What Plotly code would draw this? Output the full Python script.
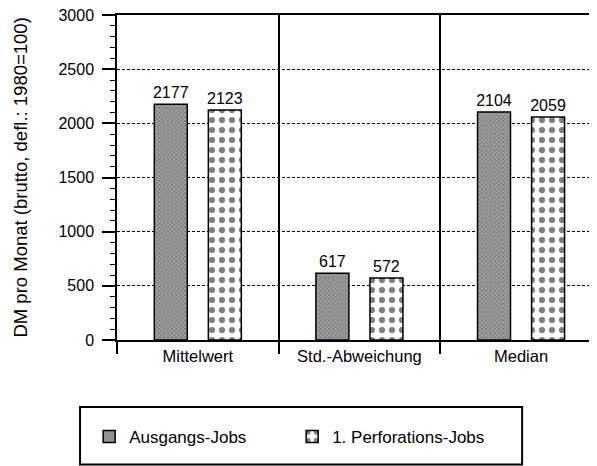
import plotly.graph_objects as go

categories = ["Mittelwert", "Std.-Abweichung", "Median"]
ausgangs_jobs = [2177, 617, 2104]
perforations_jobs = [2123, 572, 2059]
series_names = ["Ausgangs-Jobs", "1. Perforations-Jobs"]
y_title = "DM pro Monat (brutto, defl.: 1980=100)"

FONT = "Liberation Sans, Arial, Helvetica, sans-serif"

fig = go.Figure()
fig.add_trace(go.Bar(
    x=categories, y=ausgangs_jobs, name=series_names[0],
    text=[str(v) for v in ausgangs_jobs], textposition="outside",
    textfont=dict(size=16, color="black", family=FONT),
    constraintext="none", cliponaxis=False,
    marker=dict(color="#8e8e8e", line=dict(color="black", width=1.5),
                pattern=dict(shape="x", size=3, solidity=0.35, fgcolor="#333333", bgcolor="#a0a0a0")),
))
fig.add_trace(go.Bar(
    x=categories, y=perforations_jobs, name=series_names[1],
    text=[str(v) for v in perforations_jobs], textposition="outside",
    textfont=dict(size=16, color="black", family=FONT),
    constraintext="none", cliponaxis=False,
    marker=dict(color="white", line=dict(color="black", width=1.5),
                pattern=dict(shape=".", size=10, solidity=0.3, fgcolor="black", bgcolor="white")),
))

fig.update_layout(
    width=589, height=466,
    margin=dict(l=109, r=0, t=7, b=134, autoexpand=False),
    paper_bgcolor="white", plot_bgcolor="white",
    font=dict(family=FONT, size=16, color="black"),
    barmode="group", bargap=0.331, bargroupgap=0.39,
    showlegend=True,
    legend=dict(orientation="h", x=-0.058, xanchor="left", y=-0.298, yanchor="middle",
                font=dict(size=17, color="black", family=FONT),
                entrywidth=158, traceorder="normal", bgcolor="rgba(0,0,0,0)"),
    shapes=[dict(type="rect", xref="paper", yref="paper",
                 x0=-0.077, x1=0.844, y0=-0.383, y1=-0.206,
                 line=dict(color="black", width=2), fillcolor="rgba(0,0,0,0)", layer="below")],
    annotations=[dict(text=y_title, textangle=-90, xref="paper", yref="paper",
                      x=-0.202, y=0.50, xanchor="center", yanchor="middle", showarrow=False,
                      font=dict(size=18.5, color="black", family=FONT))],
)

fig.update_xaxes(
    type="category", range=[-0.5, 2.47], automargin=False,
    tickson="boundaries", ticks="outside", ticklen=12, tickcolor="black", tickwidth=1.5,
    showgrid=True, gridcolor="black", gridwidth=1.5,
    showline=True, linecolor="black", linewidth=1.5, mirror=True,
    tickfont=dict(size=16.5, color="black", family=FONT),
)
fig.update_yaxes(
    range=[0, 3000], dtick=500, tick0=0, automargin=False,
    ticks="outside", ticklen=13, tickcolor="black", tickwidth=1.5,
    ticklabelstandoff=5, ticklabeloverflow="allow",
    minor=dict(dtick=100, ticks="outside", ticklen=5, tickcolor="black", tickwidth=1, showgrid=False),
    showgrid=True, gridcolor="black", gridwidth=1, griddash="3px,2px",
    showline=True, linecolor="black", linewidth=1.5,
    zeroline=False,
    tickfont=dict(size=16, color="black", family=FONT),
)

fig.write_html("out.html")
